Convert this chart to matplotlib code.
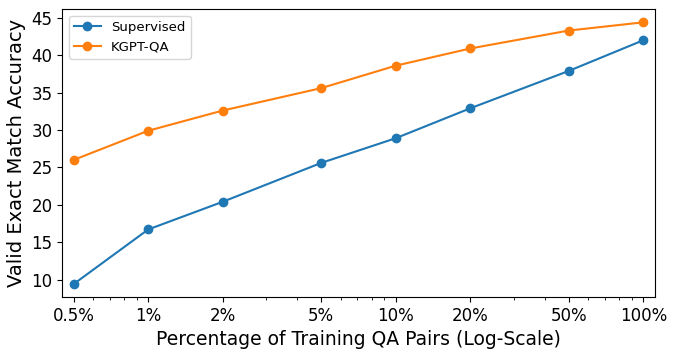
import matplotlib.pyplot as plt
from matplotlib.ticker import NullFormatter

# porcentaje de pares QA usados en entrenamiento
pct = [0.5, 1, 2, 5, 10, 20, 50, 100]
pct_labels = ['0.5%', '1%', '2%', '5%', '10%', '20%', '50%', '100%']

supervised = [9.4, 16.7, 20.4, 25.6, 28.9, 32.9, 37.9, 42.0]
kgpt_qa = [26.0, 29.9, 32.6, 35.6, 38.6, 40.9, 43.3, 44.4]

fig, ax = plt.subplots(figsize=(6.77, 3.55), dpi=100)
fig.subplots_adjust(left=0.092, right=0.967, top=0.974, bottom=0.163)

ax.plot(pct, supervised, marker='o', color='#1f77b4', label='Supervised')
ax.plot(pct, kgpt_qa, marker='o', color='#ff7f0e', label='KGPT-QA')

ax.set_xscale('log')
ax.margins(x=0.02)
ax.set_xticks(pct, pct_labels)
ax.xaxis.set_minor_formatter(NullFormatter())
ax.tick_params(axis='both', which='major', labelsize=12)

ax.set_xlabel('Percentage of Training QA Pairs (Log-Scale)', fontsize=13.5)
ax.set_ylabel('Valid Exact Match Accuracy', fontsize=14)
ax.legend(loc='upper left', fontsize=9.5)

fig.savefig('out.png')
